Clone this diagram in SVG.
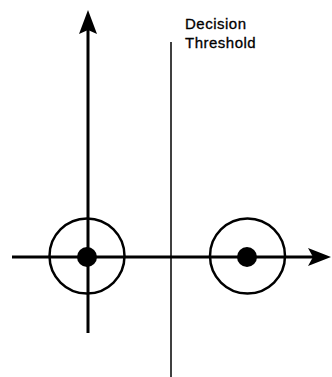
<svg xmlns="http://www.w3.org/2000/svg" width="332" height="377" viewBox="0 0 332 377">
<defs>
<style>
.ax{stroke:#000;stroke-width:3;fill:none}
.ring{stroke:#000;stroke-width:2.5;fill:none}
.thr{stroke:#000;stroke-width:1.5}
.head{fill:#000}
.lbl{font-family:"Liberation Sans",Arial,sans-serif;font-size:15px;letter-spacing:0.5px;fill:#000;stroke:#000;stroke-width:0.3}
</style>
</defs>
<rect width="332" height="377" fill="#fff"/>
<g id="connectors">
<line class="ax" x1="88" y1="333" x2="88" y2="30"/>
<polygon class="head" points="88,10 79,34 88,30 97,34"/>
<line class="ax" x1="12" y1="257" x2="314" y2="257"/>
<polygon class="head" points="331,257 308,248 313,257 308,266"/>
<line class="thr" x1="171" y1="42" x2="171" y2="377"/>
</g>
<g id="class-a">
<circle class="ring" cx="87" cy="256" r="37.5"/>
<circle cx="87" cy="257" r="10" fill="#000"/>
</g>
<g id="class-b">
<circle class="ring" cx="247.5" cy="256" r="37.5"/>
<circle cx="247" cy="257" r="10" fill="#000"/>
</g>
<g id="label">
<text class="lbl" x="185" y="29">Decision</text>
<text class="lbl" x="185" y="48">Threshold</text>
</g>
</svg>
